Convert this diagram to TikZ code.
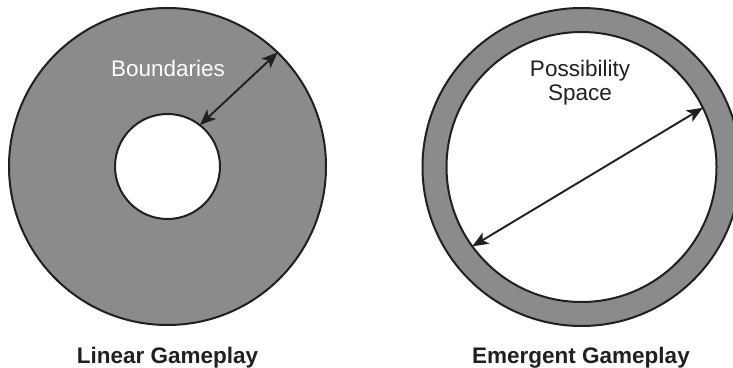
\documentclass[tikz,border=0pt]{standalone}
\usepackage{fontspec}
\setmainfont{Liberation Sans}
\usetikzlibrary{arrows.meta}
\definecolor{ringgray}{RGB}{138,139,141}
\definecolor{ink}{RGB}{35,31,32}
\begin{document}
\begin{tikzpicture}[x=1pt,y=1pt,
  disc/.style={circle, draw=ink, line width=2pt, inner sep=0pt, outer sep=0pt, minimum size=#1},
  span/.style={draw=ink, line width=1.9pt, {Stealth[length=16pt,width=13pt,inset=4pt]}-{Stealth[length=16pt,width=13pt,inset=4pt]}},
  lbl/.style={font=\fontsize{22.5}{24}\selectfont, inner sep=0pt, anchor=base, align=center},
  title/.style={font=\fontsize{22.5}{25}\selectfont\bfseries, text=ink, inner sep=0pt, anchor=base}]
  \clip (0,0) rectangle (733,367);
  \fill[white] (0,0) rectangle (733,367);

  % linear gameplay: narrow space inside wide boundaries
  \node[disc=317pt, fill=ringgray] (outerL) at (167.5,200.5) {};
  \node[disc=105pt, fill=white] (innerL) at (167.5,200.5) {};
  \draw[span] (innerL.52.4) -- (outerL.46.8);
  \node[lbl, text=white] (boundaries) at (168,290) {Boundaries};
  \node[title] (linear) at (167.5,4) {Linear Gameplay};

  % emergent gameplay: wide space inside thin boundaries
  \node[disc=318pt, fill=ringgray] (outerR) at (581.5,200) {};
  \node[disc=270pt, fill=white] (innerR) at (581.5,200) {};
  \draw[span] (innerR.216.7) -- (innerR.26.9);
  \node[lbl, text=ink] (possibility) at (580,266) {Possibility\\Space};
  \node[title] (emergent) at (581,4) {Emergent Gameplay};
\end{tikzpicture}
\end{document}
